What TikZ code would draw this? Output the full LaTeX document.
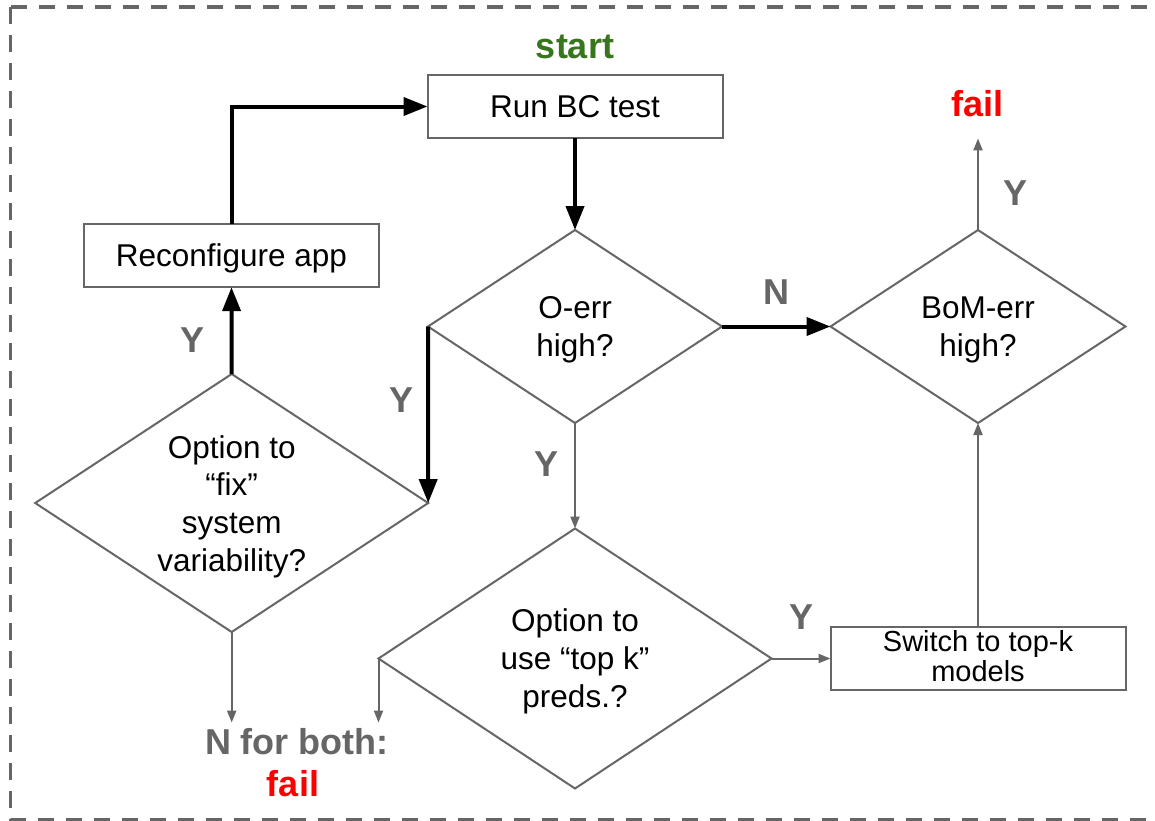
\documentclass[tikz,border=0pt]{standalone}
\usepackage{fontspec}
\setmainfont{Liberation Sans}
\usetikzlibrary{arrows.meta,shapes.geometric}
\definecolor{linegray}{HTML}{666666}
\definecolor{labelgray}{HTML}{666666}
\definecolor{startgreen}{HTML}{38761D}
\definecolor{failred}{HTML}{FF0000}
\begin{document}
\begin{tikzpicture}[x=1pt,y=-1pt,
  frame/.style={draw=linegray,line width=3.5pt,dash pattern=on 16.5pt off 11.5pt},
  box/.style={draw=linegray,line width=2pt,rectangle,minimum width=295pt,minimum height=63pt,
    inner sep=0pt,outer sep=0pt,font=\fontsize{31.5}{38}\selectfont,text height=22pt,text depth=0pt},
  decision/.style={draw=linegray,line width=2pt,diamond,inner sep=0pt,outer sep=0pt},
  txt/.style={align=center,inner sep=0pt,font=\fontsize{31.5}{37.8}\selectfont},
  ans/.style={text=labelgray,font=\fontsize{36}{40}\selectfont\bfseries,inner sep=0pt},
  main/.style={draw=black,line width=4pt,-{Triangle[length=24pt,width=18pt]}},
  side/.style={draw=linegray,line width=2pt,-{Triangle[length=12pt,width=9pt]}}
]
\useasboundingbox (0,0) rectangle (1155,820);

% dashed frame, open on the right
\begin{scope}
  \clip (0,0) rectangle (1155,820);
  \draw[frame] (10.5,7) -- (1170,7);
  \draw[frame] (10.5,7) -- (10.5,820) -- (1170,820);
\end{scope}

% process steps and decisions
\node[ans,text=startgreen] (start) at (575,47) {start};
\node[box] (run) at (575,106.5) {Run BC test};
\node[decision,minimum width=294pt,minimum height=193pt] (oerr) at (575,326.5) {};
\node[txt] (oerr-t) at (575,330) {O-err\\high?};
\node[decision,minimum width=295pt,minimum height=193pt] (bom) at (978,326.5) {};
\node[txt] (bom-t) at (978,330) {BoM-err\\high?};
\node[ans,text=failred] (failtop) at (977.5,104) {fail};
\node[box] (reconf) at (231.5,255.7) {Reconfigure app};
\node[decision,minimum width=393pt,minimum height=258pt] (fix) at (231.7,503) {};
\node[txt] (fix-t) at (231.7,506.6) {Option to\\“fix”\\system\\variability?};
\node[decision,minimum width=393pt,minimum height=260pt] (topk) at (575,658.5) {};
\node[txt] (topk-t) at (575,661.6) {Option to\\use “top k”\\preds.?};
\node[box] (switch) at (978,658.5) {};
\node[txt,font=\fontsize{29}{30}\selectfont] (switch-t) at (978,656) {Switch to top-k\\models};
\node[ans] (nboth) at (297,742) {N for both:};
\node[ans,text=failred] (failbot) at (293,784) {fail};

% branch labels
\node[ans] (y-reconf) at (193,340) {Y};
\node[ans] (y-fix) at (401.5,400) {Y};
\node[ans] (y-topk) at (546,464.5) {Y};
\node[ans] (n-bom) at (776.7,292) {N};
\node[ans] (y-switch) at (801,617) {Y};
\node[ans] (y-fail) at (1015,193) {Y};

% main path
\draw[main] (run.south) -- (oerr.north);
\draw[main] (oerr.east) -- (bom.west);
\draw[main] (oerr.west) -- (fix.east);
\draw[main] (fix.north) -- (reconf.south);
\draw[main] (reconf.north) |- (run.west);

% secondary paths
\draw[side] (oerr.south) -- (topk.north);
\draw[side] (topk.east) -- (switch.west);
\draw[side] (switch.north) -- (bom.south);
\draw[side,shorten >=21pt] (bom.north) -- (bom.north |- failtop.south);
\draw[side,shorten >=6pt] (fix.south) -- (fix.south |- nboth.north);
\draw[side,shorten >=6pt] (topk.west) -- (topk.west |- nboth.north);
\end{tikzpicture}
\end{document}
